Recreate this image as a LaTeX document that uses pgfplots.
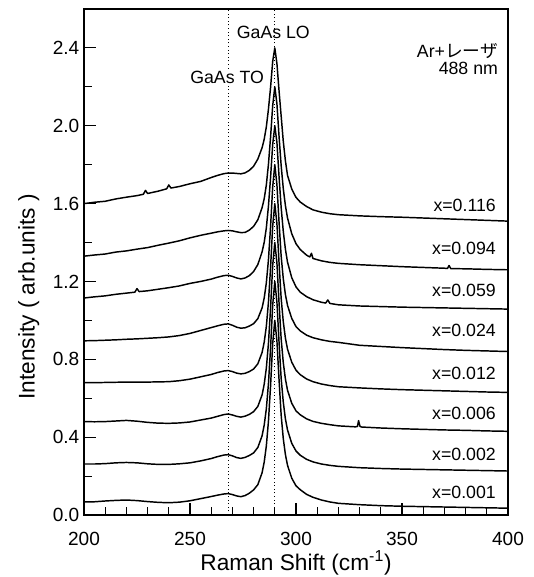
\documentclass[border=0pt]{standalone}
\usepackage{pgfplots}
\pgfplotsset{compat=1.18}
\usepackage{fontspec}
\setmainfont{Liberation Sans}
\newfontfamily\jp{Noto Sans CJK JP}
\pgfplotsset{spec/.style={black, no markers, line width=1.1pt, line join=round}}
\begin{document}
\begin{tikzpicture}
\begin{axis}[
  name=ax,
  scale only axis, width=318pt, height=379.5pt,
  xmin=200, xmax=400, ymin=0, ymax=2.6,
  xtick={200,250,300,350,400},
  ytick={0,0.4,0.8,1.2,1.6,2.0,2.4},
  minor x tick num=4, minor y tick num=1,
  xtick pos=left, ytick pos=left, tick align=inside,
  major tick length=9pt, minor tick length=6pt,
  every tick/.style={black, line width=0.8pt},
  axis line style={line width=1pt},
  /pgf/number format/assume math mode=true,
  yticklabel style={/pgf/number format/.cd, fixed, fixed zerofill, precision=1},
  tick label style={font=\fontsize{14.3}{16}\selectfont},
  xticklabel style={yshift=-9pt},
  xlabel={Raman Shift (cm\textsuperscript{-1})},
  ylabel={Intensity ( arb.units )},
  every axis x label/.style={at={(axis description cs:0.5,-0.1087)}, anchor=base, font=\fontsize{17}{20}\selectfont},
  every axis y label/.style={at={(axis description cs:-0.1167,0.431)}, rotate=90, anchor=base, font=\fontsize{17}{20}\selectfont},
]
\addplot[black, dotted, line width=0.7pt, forget plot] coordinates {(268,0) (268,2.6)};
\addplot[black, dotted, line width=0.7pt, forget plot] coordinates {(290,0) (290,2.6)};

% x=0.116
\addplot[spec] coordinates {(200,1.600) (205,1.607) (210,1.612) (215,1.624) (220,1.633) (225,1.641) (228,1.648) (229,1.668) (230,1.652) (235,1.664) (239,1.676) (240,1.696) (241,1.680) (245,1.688) (250,1.702) (255,1.714) (258,1.726) (260,1.734) (263,1.745) (266,1.754) (268,1.757) (270,1.757) (272,1.755) (274,1.753) (276,1.758) (278,1.771) (280,1.792) (282,1.829) (284,1.887) (285,1.931) (286,1.994) (287,2.085) (288,2.197) (289,2.330) (290,2.400) (291,2.320) (292,2.180) (293,2.050) (294,1.920) (295,1.820) (296,1.745) (298,1.675) (300,1.632) (302,1.608) (305,1.585) (308,1.568) (312,1.556) (316,1.548) (320,1.543) (330,1.537) (340,1.533) (350,1.530) (360,1.526) (370,1.522) (380,1.518) (390,1.514) (400,1.510)};
% x=0.094
\addplot[spec] coordinates {(200,1.330) (205,1.336) (210,1.341) (215,1.351) (220,1.357) (225,1.366) (230,1.374) (235,1.386) (240,1.397) (245,1.409) (250,1.424) (255,1.437) (260,1.448) (263,1.455) (266,1.460) (268,1.462) (270,1.460) (272,1.455) (274,1.451) (276,1.452) (278,1.464) (280,1.483) (282,1.517) (284,1.579) (285,1.625) (286,1.695) (287,1.802) (288,1.941) (289,2.103) (290,2.200) (291,2.113) (292,1.946) (293,1.795) (294,1.677) (295,1.590) (296,1.526) (298,1.445) (300,1.394) (302,1.364) (305,1.335) (306.5,1.326) (307.3,1.345) (308,1.318) (312,1.306) (316,1.298) (320,1.293) (330,1.286) (340,1.281) (350,1.276) (360,1.272) (370,1.268) (371.5,1.267) (372.2,1.282) (373,1.266) (380,1.265) (390,1.262) (400,1.260)};
% x=0.059
\addplot[spec] coordinates {(200,1.115) (205,1.121) (210,1.126) (215,1.134) (220,1.140) (224,1.145) (225,1.163) (226,1.148) (230,1.152) (235,1.160) (240,1.168) (245,1.177) (250,1.190) (255,1.200) (260,1.212) (263,1.222) (266,1.230) (268,1.232) (270,1.226) (272,1.218) (274,1.213) (276,1.218) (278,1.230) (280,1.251) (282,1.287) (284,1.352) (285,1.401) (286,1.474) (287,1.587) (288,1.733) (289,1.903) (290,2.000) (291,1.914) (292,1.739) (293,1.580) (294,1.457) (295,1.366) (296,1.299) (298,1.219) (300,1.172) (302,1.145) (305,1.122) (308,1.106) (312,1.093) (314,1.089) (315,1.105) (316,1.087) (320,1.080) (330,1.074) (340,1.071) (350,1.068) (360,1.066) (370,1.064) (380,1.062) (390,1.060) (400,1.058)};
% x=0.024
\addplot[spec] coordinates {(200,0.895) (205,0.896) (210,0.898) (215,0.900) (220,0.903) (225,0.905) (230,0.908) (235,0.911) (240,0.915) (245,0.922) (250,0.933) (255,0.948) (260,0.963) (263,0.972) (266,0.980) (268,0.982) (270,0.975) (272,0.965) (274,0.960) (276,0.962) (278,0.971) (280,0.983) (282,1.009) (284,1.064) (285,1.115) (286,1.192) (287,1.311) (288,1.481) (289,1.685) (290,1.800) (291,1.697) (292,1.505) (293,1.330) (294,1.214) (295,1.133) (296,1.077) (298,1.010) (300,0.968) (302,0.946) (305,0.924) (308,0.911) (312,0.900) (316,0.892) (320,0.887) (330,0.872) (340,0.866) (350,0.860) (360,0.855) (370,0.850) (380,0.846) (390,0.843) (400,0.840)};
% x=0.012
\addplot[spec] coordinates {(200,0.680) (205,0.680) (210,0.681) (215,0.682) (220,0.683) (225,0.683) (230,0.683) (235,0.684) (240,0.685) (245,0.690) (250,0.698) (255,0.710) (260,0.722) (263,0.732) (266,0.740) (268,0.742) (270,0.737) (272,0.729) (274,0.725) (276,0.728) (278,0.737) (280,0.750) (282,0.777) (284,0.835) (285,0.888) (286,0.968) (287,1.093) (288,1.271) (289,1.484) (290,1.600) (291,1.497) (292,1.296) (293,1.113) (294,0.993) (295,0.909) (296,0.852) (298,0.785) (300,0.744) (302,0.721) (305,0.699) (308,0.685) (312,0.673) (316,0.665) (320,0.659) (330,0.653) (340,0.648) (350,0.644) (360,0.641) (370,0.638) (380,0.635) (390,0.632) (400,0.630)};
% x=0.006
\addplot[spec] coordinates {(200,0.480) (205,0.479) (210,0.480) (215,0.483) (220,0.486) (225,0.482) (230,0.476) (235,0.472) (240,0.471) (245,0.473) (250,0.478) (255,0.488) (260,0.498) (263,0.507) (266,0.516) (268,0.519) (270,0.514) (272,0.507) (274,0.503) (276,0.508) (278,0.517) (280,0.531) (282,0.558) (284,0.617) (285,0.672) (286,0.754) (287,0.881) (288,1.063) (289,1.282) (290,1.400) (291,1.295) (292,1.090) (293,0.905) (294,0.783) (295,0.699) (296,0.641) (298,0.574) (300,0.535) (302,0.515) (305,0.494) (308,0.481) (312,0.471) (316,0.464) (320,0.458) (328,0.453) (329,0.455) (329.5,0.485) (330.2,0.455) (331,0.452) (340,0.447) (350,0.443) (360,0.440) (370,0.437) (380,0.435) (390,0.432) (400,0.430)};
% x=0.002
\addplot[spec] coordinates {(200,0.262) (205,0.262) (210,0.264) (215,0.268) (220,0.270) (225,0.268) (230,0.263) (235,0.260) (240,0.260) (245,0.263) (250,0.268) (255,0.278) (260,0.290) (263,0.300) (266,0.308) (268,0.310) (270,0.304) (272,0.295) (274,0.291) (276,0.296) (278,0.306) (280,0.319) (282,0.347) (284,0.407) (285,0.462) (286,0.545) (287,0.674) (288,0.858) (289,1.078) (290,1.200) (291,1.094) (292,0.888) (293,0.702) (294,0.580) (295,0.494) (296,0.437) (298,0.368) (300,0.329) (302,0.307) (305,0.286) (308,0.273) (312,0.262) (316,0.255) (320,0.250) (330,0.243) (340,0.239) (350,0.236) (360,0.234) (370,0.232) (380,0.230) (390,0.228) (400,0.226)};
% x=0.001
\addplot[spec] coordinates {(200,0.067) (205,0.068) (210,0.072) (215,0.075) (220,0.077) (225,0.074) (230,0.069) (235,0.065) (240,0.063) (245,0.066) (250,0.073) (255,0.084) (260,0.095) (263,0.102) (266,0.108) (268,0.110) (270,0.105) (272,0.098) (274,0.094) (276,0.100) (278,0.112) (280,0.129) (282,0.156) (284,0.217) (285,0.272) (286,0.354) (287,0.481) (288,0.663) (289,0.880) (290,1.000) (291,0.895) (292,0.695) (293,0.513) (294,0.392) (295,0.311) (296,0.255) (298,0.189) (300,0.150) (302,0.130) (305,0.106) (308,0.091) (312,0.077) (316,0.067) (320,0.060) (330,0.053) (340,0.048) (350,0.045) (360,0.043) (370,0.041) (380,0.039) (390,0.037) (400,0.035)};

\begin{scope}[every node/.style={font=\fontsize{13.3}{15}\selectfont, inner sep=1pt}]
\node[anchor=east] at (axis cs:395,1.593) {x=0.116};
\node[anchor=east] at (axis cs:395,1.372) {x=0.094};
\node[anchor=east] at (axis cs:395,1.156) {x=0.059};
\node[anchor=east] at (axis cs:395,0.946) {x=0.024};
\node[anchor=east] at (axis cs:395,0.730) {x=0.012};
\node[anchor=east] at (axis cs:395,0.524) {x=0.006};
\node[anchor=east] at (axis cs:395,0.313) {x=0.002};
\node[anchor=east] at (axis cs:395,0.118) {x=0.001};
\node at (axis cs:289.3,2.48) {GaAs LO};
\node[fill=white] at (axis cs:267.5,2.25) {GaAs TO};
\node[anchor=east] at (axis cs:396,2.385) {Ar+{\jp レーザ}};
\node[anchor=east] at (axis cs:396,2.295) {488 nm};
\end{scope}
\end{axis}
\pgfresetboundingbox
\path (-63pt,-46.5pt) rectangle (337pt,386.25pt);
\end{tikzpicture}
\end{document}
